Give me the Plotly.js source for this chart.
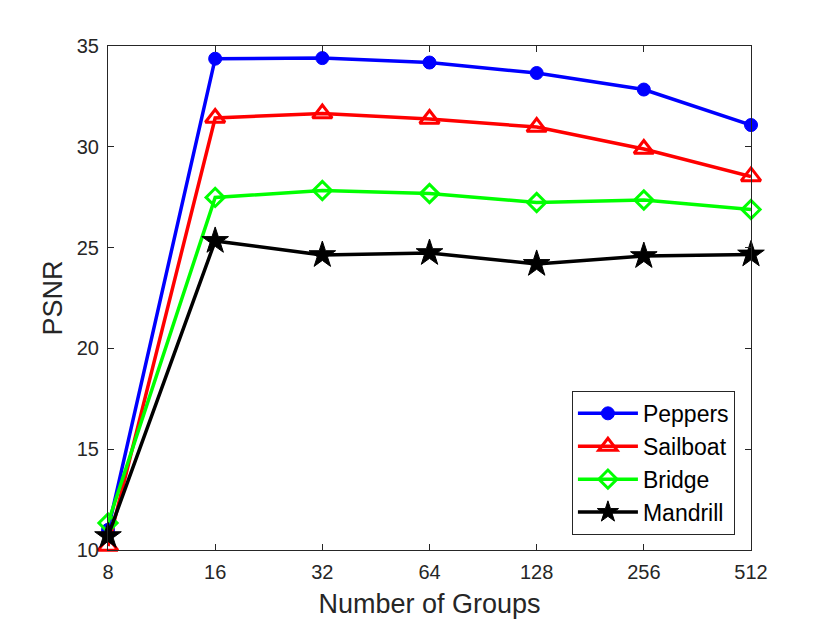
<!DOCTYPE html>
<html>
<head>
<meta charset="utf-8">
<script src="https://cdn.plot.ly/plotly-3.0.1.min.js"></script>
<style>
  html, body { margin: 0; padding: 0; background: #ffffff; }
  #chart { width: 830px; height: 623px; }
</style>
</head>
<body>
<div id="chart"></div>
<script>
const groups = [8, 16, 32, 64, 128, 256, 512];
const peppers = [11.0, 34.37, 34.4, 34.18, 33.66, 32.84, 31.08];
const sailboat = [10.2, 31.43, 31.65, 31.38, 30.98, 29.89, 28.53];
const bridge = [11.34, 27.49, 27.83, 27.68, 27.24, 27.36, 26.89];
const mandrill = [10.69, 25.33, 24.63, 24.73, 24.19, 24.58, 24.66];

const makeTrace = (name, y, color, symbol, size, lw) => ({
  x: groups,
  y: y,
  type: 'scatter',
  mode: 'lines+markers',
  name: name,
  line: { color: color, width: 3.5 },
  marker: { symbol: symbol, size: size, color: color, line: { color: color, width: lw } },
  cliponaxis: false
});

const traces = [
  makeTrace('Peppers', peppers, '#0000ff', 'circle', 13, 1),
  makeTrace('Sailboat', sailboat, '#ff0000', 'triangle-up-open', 17, 3),
  makeTrace('Bridge', bridge, '#00ff00', 'diamond-open', 14, 3),
  makeTrace('Mandrill', mandrill, '#000000', 'star', 20, 1)
];

const font = 'Liberation Sans, Arial, sans-serif';

const axisStyle = {
  showline: true,
  mirror: 'ticks',
  linecolor: '#262626',
  linewidth: 1,
  ticks: 'inside',
  ticklen: 6,
  tickcolor: '#262626',
  showgrid: false,
  zeroline: false,
  ticklabelstandoff: 4,
  tickfont: { family: font, size: 20, color: '#262626' }
};

// tiny padding so the end points are not dropped by float round-off
const eps = 1e-6;

const layout = {
  width: 830,
  height: 623,
  margin: { l: 108, r: 79, t: 46, b: 73 },
  paper_bgcolor: '#ffffff',
  plot_bgcolor: '#ffffff',
  showlegend: true,
  xaxis: Object.assign({}, axisStyle, {
    type: 'log',
    range: [Math.log10(8) - eps, Math.log10(512) + eps],
    tickvals: groups,
    ticktext: groups.map(String),
    title: { text: 'Number of Groups', font: { family: font, size: 27, color: '#262626' }, standoff: 12 }
  }),
  yaxis: Object.assign({}, axisStyle, {
    range: [10 - eps, 35 + eps],
    tickvals: [10, 15, 20, 25, 30, 35],
    title: { text: 'PSNR', font: { family: font, size: 27, color: '#262626' }, standoff: 6 }
  }),
  legend: {
    x: 0.975,
    y: 0.03,
    xanchor: 'right',
    yanchor: 'bottom',
    bgcolor: '#ffffff',
    bordercolor: '#262626',
    borderwidth: 1,
    itemwidth: 60,
    font: { family: font, size: 23, color: '#000000' }
  }
};

Plotly.newPlot('chart', traces, layout, { staticPlot: true });
</script>
</body>
</html>
